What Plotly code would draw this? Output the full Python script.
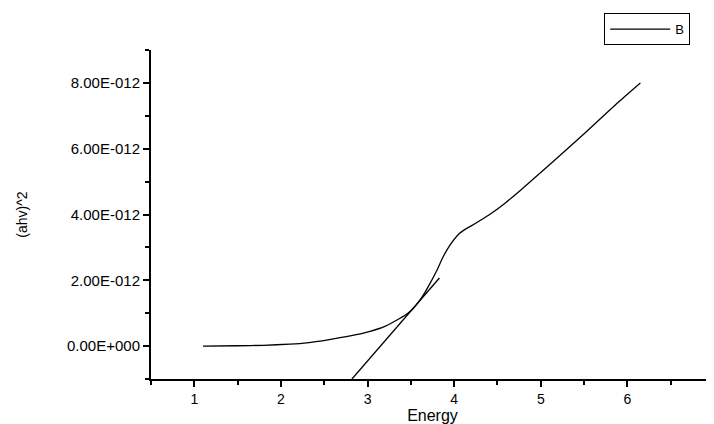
import plotly.graph_objects as go

# Curve B: photon energy (eV) vs (ahv)^2 (values in units of 1e-12)
energy = [1.10, 1.50, 1.80, 2.10, 2.30, 2.56, 2.80, 3.03, 3.20, 3.37, 3.45, 3.53,
          3.60, 3.66, 3.72, 3.80, 3.87, 3.95, 4.06, 4.14, 4.22, 4.41, 4.58, 4.75,
          5.14, 5.52, 5.91, 6.15]
ahv2_e12 = [0.00, 0.01, 0.025, 0.06, 0.10, 0.20, 0.31, 0.45, 0.60, 0.84, 0.97, 1.15,
            1.38, 1.62, 1.90, 2.30, 2.70, 3.06, 3.42, 3.57, 3.69, 4.00, 4.33, 4.70,
            5.60, 6.50, 7.45, 8.00]
ahv2 = [v * 1e-12 for v in ahv2_e12]

# Linear tangent (Tauc extrapolation)
tangent_x = [2.82, 3.83]
tangent_y = [-1.0e-12, 2.07e-12]

y_tickvals = [0, 2e-12, 4e-12, 6e-12, 8e-12]
y_ticktext = ["0.00E+000", "2.00E-012", "4.00E-012", "6.00E-012", "8.00E-012"]
y_minor = [-1e-12, 1e-12, 3e-12, 5e-12, 7e-12, 9e-12]
x_tickvals = [1, 2, 3, 4, 5, 6, 7]

fig = go.Figure()
fig.add_trace(go.Scatter(x=energy, y=ahv2, mode="lines", name="B",
                         line=dict(color="black", width=1.3, shape="spline", smoothing=0.6)))
fig.add_trace(go.Scatter(x=tangent_x, y=tangent_y, mode="lines", showlegend=False,
                         line=dict(color="black", width=1.3)))

font = "Liberation Sans, Arial, sans-serif"
# page body has an 8px margin; figure sized so the plot lands where the reference has it
fig.update_layout(
    width=706, height=416,
    margin=dict(l=143, r=0, t=42, b=45, autoexpand=False),
    paper_bgcolor="white", plot_bgcolor="white",
    font=dict(family=font, color="black", size=13),
    showlegend=True,
    legend=dict(x=0.805, y=1.112, xanchor="left", yanchor="top",
                bordercolor="black", borderwidth=1, bgcolor="white",
                font=dict(size=13), itemwidth=60, tracegroupgap=0),
    xaxis=dict(range=[0.5, 7], showgrid=False, zeroline=False,
               showline=True, linecolor="black", linewidth=2,
               ticks="outside", ticklen=6, tickwidth=1.5, tickcolor="black",
               tickvals=x_tickvals, tickfont=dict(size=14), ticklabeloverflow="allow",
               minor=dict(dtick=0.5, tick0=0.5, ticks="outside", ticklen=4, tickwidth=1.5, tickcolor="black"),
               title=dict(text="Energy", font=dict(size=16), standoff=4)),
    yaxis=dict(range=[-1e-12, 9e-12], showgrid=False, zeroline=False,
               showline=True, linecolor="black", linewidth=2,
               ticks="outside", ticklen=6, tickwidth=1.5, tickcolor="black",
               tickvals=y_tickvals, ticktext=y_ticktext, tickfont=dict(size=15),
               minor=dict(tickvals=y_minor,
                          ticks="outside", ticklen=4, tickwidth=1.5, tickcolor="black"),
               title=dict(text="(ahv)^2", font=dict(size=14), standoff=36)),
)

fig.write_html("out.html")
